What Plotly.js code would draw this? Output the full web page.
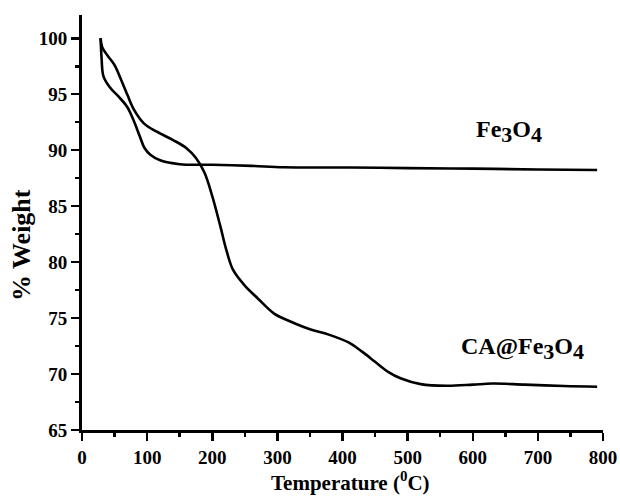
<!DOCTYPE html>
<html>
<head>
<meta charset="utf-8">
<script src="https://cdn.plot.ly/plotly-3.0.1.min.js"></script>
<style>
  html, body { margin: 0; padding: 0; background: #fff; }
  #chart { width: 620px; height: 496px; }
</style>
</head>
<body>
<div id="chart"></div>
<script>
// TGA curves: temperature (°C) vs remaining weight (%)
const fe3o4Temp = [28.6, 30, 33, 43, 56, 69, 79, 89, 96, 105, 120, 150, 200, 260, 310, 412, 500, 600, 700, 791];
const fe3o4Weight = [100, 98.3, 96.6, 95.6, 94.8, 93.9, 92.7, 91.2, 90.2, 89.6, 89.1, 88.75, 88.7, 88.6, 88.47, 88.45, 88.4, 88.35, 88.28, 88.23];

const caTemp = [28.6, 31, 40, 50, 60, 70, 80, 95, 115, 140, 160, 175, 188, 200, 212, 222, 232, 250, 270, 295, 320, 350, 380, 410, 430, 450, 470, 490, 520, 560, 600, 630, 680, 740, 791];
const caWeight = [100, 99.2, 98.4, 97.6, 96.3, 94.9, 93.6, 92.4, 91.65, 90.9, 90.2, 89.3, 88.0, 85.9, 83.3, 81.0, 79.3, 77.9, 76.75, 75.4, 74.7, 74.0, 73.5, 72.8, 72.0, 71.1, 70.2, 69.6, 69.1, 68.95, 69.05, 69.15, 69.05, 68.93, 68.87];

const xTicks = [0, 100, 200, 300, 400, 500, 600, 700, 800];
const xMinor = [50, 150, 250, 350, 450, 550, 650, 750];
const yTicks = [65, 70, 75, 80, 85, 90, 95, 100];
const yMinor = [67.5, 72.5, 77.5, 82.5, 87.5, 92.5, 97.5];

// Series labels, subscripts kept near full size
const sub = d => '<sub><span style="font-size:22px">' + d + '</span></sub>';
const fe3o4Label = 'Fe' + sub('3') + 'O' + sub('4');
const caLabel = 'CA@Fe' + sub('3') + 'O' + sub('4');

const serif = 'Liberation Serif, Times New Roman, serif';
const lineStyle = { color: '#000', width: 2.6, shape: 'spline', smoothing: 1.0 };

const traces = [
  { x: fe3o4Temp, y: fe3o4Weight, mode: 'lines', line: lineStyle, name: 'Fe3O4', hoverinfo: 'skip' },
  { x: caTemp, y: caWeight, mode: 'lines', line: lineStyle, name: 'CA@Fe3O4', hoverinfo: 'skip' }
];

const axisCommon = {
  showgrid: false,
  zeroline: false,
  showline: true,
  linecolor: '#000',
  linewidth: 3,
  ticks: 'outside',
  ticklen: 8,
  tickwidth: 2.5,
  tickcolor: '#000',
  tickfont: { family: serif, size: 19, color: '#000', weight: 'bold' },
  mirror: false
};

const minorTicks = vals => ({ tickvals: vals, ticklen: 4, tickwidth: 2.5, tickcolor: '#000', ticks: 'outside' });

const layout = {
  width: 620,
  height: 496,
  margin: { l: 82, r: 17, t: 15, b: 66 },
  paper_bgcolor: '#fff',
  plot_bgcolor: '#fff',
  showlegend: false,
  xaxis: Object.assign({}, axisCommon, {
    range: [0, 800],
    tickvals: xTicks,
    ticktext: xTicks.map(String),
    minor: minorTicks(xMinor)
  }),
  yaxis: Object.assign({}, axisCommon, {
    range: [65, 102.08],
    tickvals: yTicks,
    ticktext: yTicks.map(String),
    minor: minorTicks(yMinor)
  }),
  annotations: [
    { x: 0.515, y: -0.158, xref: 'paper', yref: 'paper', xanchor: 'center', yanchor: 'bottom',
      text: 'Temperature (<sup><span style="font-size:15px">0</span></sup>C)', showarrow: false, borderpad: 0,
      font: { family: serif, size: 21, color: '#000', weight: 'bold' } },
    { x: -0.115, y: 0.446, xref: 'paper', yref: 'paper', xanchor: 'center', yanchor: 'middle',
      text: '% Weight', textangle: -90, showarrow: false,
      font: { family: serif, size: 26, color: '#000', weight: 'bold' } },
    { x: 656, y: 91.7, xref: 'x', yref: 'y', text: fe3o4Label, showarrow: false,
      font: { family: serif, size: 24, color: '#000', weight: 'bold' } },
    { x: 677, y: 72.3, xref: 'x', yref: 'y', text: caLabel, showarrow: false,
      font: { family: serif, size: 24, color: '#000', weight: 'bold' } }
  ]
};

Plotly.newPlot('chart', traces, layout, { staticPlot: true, displayModeBar: false });
</script>
</body>
</html>
